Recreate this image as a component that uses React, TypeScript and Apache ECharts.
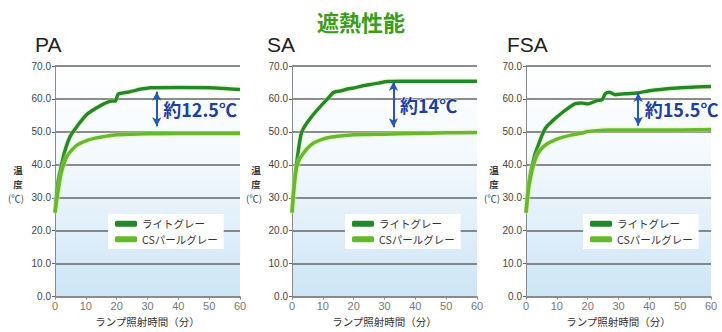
import React, { useEffect, useRef } from "react";
import * as echarts from "echarts";

const chartNames = ["PA", "SA", "FSA"];
const seriesNames = ["ライトグレー", "CSパールグレー"];
const yNameParts = ["温", "度", "(℃)"];

const paDarkT = [0, 0.5, 1, 2, 3, 4, 5, 7, 10, 13, 16, 18.5, 19.5, 20.5, 22, 24, 28, 31, 40, 50, 55, 60];
const paDarkV = [25.5, 31, 35, 39.5, 43.5, 46.5, 48.8, 51.5, 55, 57, 58.6, 59.4, 59.3, 61.5, 61.8, 62.1, 63, 63.4, 63.5, 63.4, 63.2, 62.9];
const paLightT = [0, 0.5, 1, 2, 3, 4, 5, 7, 10, 13, 16, 20, 25, 30, 40, 50, 60];
const paLightV = [25.5, 29, 32, 37.5, 40.6, 42.8, 44, 45.9, 47.3, 48.1, 48.6, 49.1, 49.3, 49.4, 49.5, 49.5, 49.5];

const saDarkT = [0, 0.5, 1, 2, 3, 4, 6, 9, 12, 13.5, 16, 18, 20, 23, 26, 28, 31, 35, 40, 50, 60];
const saDarkV = [25.5, 32, 37, 44, 49.5, 51.5, 54.2, 57.5, 60.5, 62, 62.5, 63, 63.3, 64, 64.5, 64.8, 65.3, 65.4, 65.4, 65.4, 65.4];
const saLightT = [0, 0.5, 1, 1.6, 2.5, 3.8, 5, 7, 10, 12.4, 16, 20, 25, 30, 40, 50, 60];
const saLightV = [25.5, 31.5, 36, 39.6, 41.8, 43.6, 45, 46.6, 47.8, 48.4, 48.8, 49.1, 49.2, 49.3, 49.5, 49.7, 49.8];

const fsaDarkT = [0, 0.5, 1, 2, 3, 4, 5, 6.3, 8, 9.5, 12.8, 16, 18, 20, 23, 24.7, 25.7, 27, 29, 31, 33, 36, 40, 45, 50, 55, 60];
const fsaDarkV = [25.5, 31, 35, 39.8, 43.5, 46, 48.5, 51.1, 52.8, 54.1, 56.6, 58.6, 58.8, 58.5, 59.5, 59.8, 61.6, 62, 61.3, 61.5, 61.6, 61.8, 62.5, 63, 63.4, 63.6, 63.8];
const fsaLightT = [0, 0.5, 1, 2, 3, 4, 5.2, 7, 9.5, 12, 15, 18, 20, 24, 27, 30, 40, 50, 60];
const fsaLightV = [25.5, 30, 33.7, 38.5, 41.6, 43.6, 45.1, 46.5, 47.6, 48.4, 49.1, 49.6, 50.1, 50.4, 50.6, 50.6, 50.6, 50.6, 50.7];

const annTime = [33, 32.9, 36.4];
const annTop = [62.2, 65.2, 61.8];
const annBottom = [51.7, 51.4, 51.9];
const annLabels = ["約12.5℃", "約14℃", "約15.5℃"];

const darkT = [paDarkT, saDarkT, fsaDarkT];
const darkV = [paDarkV, saDarkV, fsaDarkV];
const lightT = [paLightT, saLightT, fsaLightT];
const lightV = [paLightV, saLightV, fsaLightV];

const gridLefts = [55, 292, 526];
const gridWidth = 185;
const legendLefts = [108, 345, 583];
const subtitleX = [35, 267, 507];
const yNameX = [18, 256, 494];
const yNameY = [165, 179, 193];

const DARK = "#23882b";
const LIGHT = "#66b82e";
const JP = "'Noto Sans CJK JP', 'Noto Sans', sans-serif";
const SANS = "'Liberation Sans', Arial, sans-serif";

const zip = (t: number[], v: number[]) => t.map((x, i) => [x, v[i]]);

export default function App() {
  const ref = useRef<HTMLDivElement>(null);
  useEffect(() => {
    if (!ref.current) return;
    const chart = echarts.init(ref.current, null, { renderer: "svg" });
    const bg = new echarts.graphic.LinearGradient(0, 0, 0, 1, [
      { offset: 0, color: "#ffffff" },
      { offset: 0.4, color: "#f4f9fd" },
      { offset: 1, color: "#cde5f6" },
    ]);
    const grids = gridLefts.map((l) => ({
      left: l,
      width: gridWidth,
      top: 66,
      height: 233,
      show: true,
      backgroundColor: bg,
      borderWidth: 0,
    }));
    const xAxes = gridLefts.map((_, i) => ({
      type: "value",
      gridIndex: i,
      min: 0,
      max: 60,
      interval: 10,
      name: "ランプ照射時間（分）",
      nameLocation: "middle",
      nameGap: 17,
      nameTextStyle: { fontFamily: JP, fontSize: 10.5, color: "#333" },
      axisLine: { show: true, lineStyle: { color: "#8a8a8a", width: 1 } },
      axisTick: { show: true, length: 3, lineStyle: { color: "#8a8a8a" } },
      axisLabel: { fontFamily: SANS, fontSize: 11, color: "#777", margin: 4 },
      splitLine: { show: false },
    }));
    const yAxes = gridLefts.map((_, i) => ({
      type: "value",
      gridIndex: i,
      min: 0,
      max: 70,
      interval: 10,
      axisLine: { show: true, lineStyle: { color: "#8a8a8a", width: 1 } },
      axisTick: { show: true, length: 3, lineStyle: { color: "#666" } },
      axisLabel: {
        fontFamily: SANS,
        fontSize: 10,
        color: "#444",
        margin: 4,
        formatter: (v: number) => v.toFixed(1),
      },
      splitLine: { show: true, lineStyle: { color: "#666666", width: 1.6 } },
    }));
    const series: any[] = [];
    gridLefts.forEach((_, i) => {
      const mid = (annTop[i] + annBottom[i]) / 2;
      series.push({
        type: "line",
        name: seriesNames[0],
        xAxisIndex: i,
        yAxisIndex: i,
        data: zip(darkT[i], darkV[i]),
        smooth: 0.3,
        showSymbol: false,
        z: 3,
        lineStyle: { color: DARK, width: 3.5, shadowColor: "rgba(190,230,120,0.8)", shadowBlur: 2 },
        itemStyle: { color: DARK },
        markLine: {
          silent: true,
          symbol: ["arrow", "arrow"],
          symbolSize: [7, 9],
          label: { show: false },
          lineStyle: { color: "#2457b8", width: 2, type: "solid" },
          data: [[{ coord: [annTime[i], annTop[i]] }, { coord: [annTime[i], annBottom[i]] }]],
        },
        markPoint: {
          silent: true,
          symbol: "circle",
          symbolSize: 1,
          itemStyle: { color: "rgba(0,0,0,0)" },
          label: {
            show: true,
            position: "right",
            distance: 6,
            formatter: annLabels[i],
            fontFamily: JP,
            fontSize: 18,
            fontWeight: "bold",
            color: "#1d3f9e",
            textBorderColor: "#ffffff",
            textBorderWidth: 1,
          },
          data: [{ coord: [annTime[i], mid], value: annLabels[i] }],
        },
      });
      series.push({
        type: "line",
        name: seriesNames[1],
        xAxisIndex: i,
        yAxisIndex: i,
        data: zip(lightT[i], lightV[i]),
        smooth: 0.3,
        showSymbol: false,
        z: 4,
        lineStyle: { color: LIGHT, width: 3.5, shadowColor: "rgba(215,240,140,0.95)", shadowBlur: 3 },
        itemStyle: { color: LIGHT },
      });
    });
    const legends = legendLefts.map((l) => ({
      left: l,
      top: 214,
      orient: "vertical",
      data: seriesNames,
      icon: "roundRect",
      itemWidth: 22,
      itemHeight: 6,
      itemGap: 0,
      padding: [2, 6, 2, 7],
      backgroundColor: "#ffffff",
      selectedMode: false,
      textStyle: { fontFamily: JP, fontSize: 10.5, lineHeight: 15.5, color: "#333" },
    }));
    const graphics: any[] = [];
    chartNames.forEach((n, i) => {
      graphics.push({
        type: "text",
        left: subtitleX[i],
        top: 34,
        style: { text: n, font: `21px ${SANS}`, fill: "#222" },
      });
      yNameParts.forEach((p, k) => {
        graphics.push({
          type: "text",
          x: yNameX[i] - (k === 2 ? 2 : 0),
          y: yNameY[k],
          style: {
            text: p,
            font: `${k < 2 ? "bold " : ""}9.5px ${JP}`,
            fill: "#3a3a3a",
            align: "center",
            verticalAlign: "top",
          },
        });
      });
    });
    chart.setOption({
      animation: false,
      title: {
        text: "遮熱性能",
        left: "center",
        top: 5,
        textStyle: { fontFamily: JP, fontSize: 22, fontWeight: "bold", color: "#3c9c1c" },
      },
      grid: grids,
      xAxis: xAxes,
      yAxis: yAxes,
      legend: legends,
      series,
      graphic: graphics,
    } as any);
    return () => chart.dispose();
  }, []);
  return (
    <div
      ref={ref}
      style={{ position: "absolute", left: 0, top: 0, width: 722, height: 332, background: "#fff" }}
    />
  );
}
